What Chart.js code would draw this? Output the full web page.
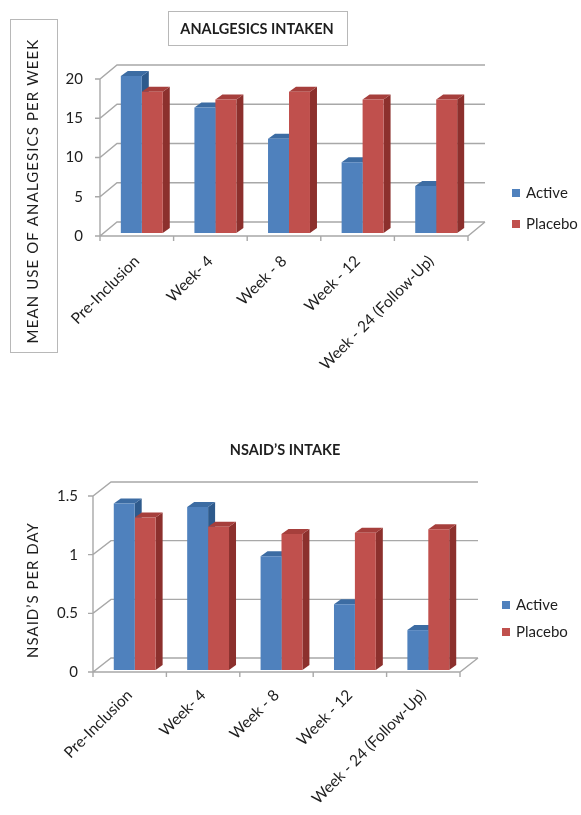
<!DOCTYPE html>
<html>
<head>
<meta charset="utf-8">
<script src="https://cdn.jsdelivr.net/npm/chart.js@4.4.1/dist/chart.umd.min.js"></script>
<style>
  html, body { margin: 0; padding: 0; background: #fff; }
  body { width: 581px; height: 815px; position: relative; overflow: hidden; }
  canvas { position: absolute; left: 0; }
  #analgesics { top: 0; }
  #nsaids { top: 400px; }
</style>
</head>
<body>
<canvas id="analgesics" width="581" height="400"></canvas>
<canvas id="nsaids" width="581" height="415"></canvas>
<script>
// ---- data ----
const categories = ['Pre-Inclusion', 'Week- 4', 'Week - 8', 'Week - 12', 'Week - 24 (Follow-Up)'];
const seriesNames = ['Active', 'Placebo'];

const analgesicsActive  = [20, 16, 12, 9, 6];
const analgesicsPlacebo = [18, 17, 18, 17, 17];
const analgesicsAxis    = { min: 0, max: 20, step: 5 };

const nsaidActive  = [1.42, 1.39, 0.97, 0.56, 0.34];
const nsaidPlacebo = [1.30, 1.22, 1.16, 1.17, 1.20];
const nsaidAxis    = { min: 0, max: 1.5, step: 0.5 };

// ---- styling ----
const FONT = 'Lato, "Liberation Sans", sans-serif';
const TEXT = '#1e1e1e';
const BLUE = { front: '#4F81BD', side: '#2E5A8C', top: '#3C6CA3' };
const RED  = { front: '#C0504D', side: '#8C302D', top: '#A63F3C' };

// Draws the 3-D box (walls, floor, axis ticks) and the bar depth faces,
// then shifts the flat bar fronts into the box.
const depthPlugin = {
  id: 'depth3d',
  beforeDatasetsDraw(chart, args, o) {
    const { ctx, chartArea: a, scales: { x, y } } = chart;
    const [wx, wy] = o.wall;
    ctx.save();
    ctx.strokeStyle = o.lineColor;
    ctx.lineWidth = o.lineWidth;
    ctx.beginPath();
    y.ticks.forEach(t => {
      const py = y.getPixelForValue(t.value);
      ctx.moveTo(a.left - 5, py);
      ctx.lineTo(a.left, py);
      ctx.lineTo(a.left + wx, py + wy);
      ctx.lineTo(a.right + wx, py + wy);
    });
    ctx.moveTo(a.left, a.top);
    ctx.lineTo(a.left, a.bottom);
    ctx.lineTo(a.right, a.bottom);
    ctx.lineTo(a.right + wx, a.bottom + wy);
    for (let i = 0; i <= x.ticks.length; i++) {
      const px = x.getPixelForValue(i - 0.5);
      ctx.moveTo(px, a.bottom);
      ctx.lineTo(px, a.bottom + 5);
    }
    ctx.stroke();

    ctx.translate(o.barShift[0], o.barShift[1]);
    const [dx, dy] = o.barDepth;
    chart.data.datasets.forEach((ds, di) => {
      const meta = chart.getDatasetMeta(di);
      meta.data.forEach(bar => {
        const p = bar.getProps(['x', 'y', 'base', 'width'], true);
        const l = p.x - p.width / 2, r = p.x + p.width / 2;
        ctx.fillStyle = ds.sideColor;
        ctx.beginPath();
        ctx.moveTo(r, p.y); ctx.lineTo(r + dx, p.y + dy);
        ctx.lineTo(r + dx, p.base + dy); ctx.lineTo(r, p.base);
        ctx.closePath(); ctx.fill();
        ctx.fillStyle = ds.topColor;
        ctx.beginPath();
        ctx.moveTo(l, p.y); ctx.lineTo(l + dx, p.y + dy);
        ctx.lineTo(r + dx, p.y + dy); ctx.lineTo(r, p.y);
        ctx.closePath(); ctx.fill();
      });
    });
  },
  afterDatasetsDraw(chart) {
    chart.ctx.restore();
  },
  afterDraw(chart, args, o) {
    const ctx = chart.ctx;
    ctx.save();
    ctx.fillStyle = TEXT;
    ctx.textBaseline = 'middle';

    const t = o.title;
    ctx.font = `bold ${t.size}px ${FONT}`;
    ctx.textAlign = 'center';
    ctx.fillText(t.text, t.x, t.y);
    if (t.box) {
      ctx.strokeStyle = '#b8b8b8'; ctx.lineWidth = 1;
      ctx.strokeRect(t.box[0] + 0.5, t.box[1] + 0.5, t.box[2], t.box[3]);
    }

    const at = o.axisTitle;
    ctx.save();
    ctx.translate(at.x, at.y);
    ctx.rotate(-Math.PI / 2);
    ctx.font = `${at.size}px ${FONT}`;
    ctx.letterSpacing = at.spacing + 'px';
    ctx.fillText(at.text, 0, 0);
    ctx.restore();
    if (at.box) {
      ctx.strokeStyle = '#b8b8b8'; ctx.lineWidth = 1;
      ctx.strokeRect(at.box[0] + 0.5, at.box[1] + 0.5, at.box[2], at.box[3]);
    }

    const L = o.legend;
    ctx.font = `${L.size}px ${FONT}`;
    ctx.textAlign = 'left';
    chart.data.datasets.forEach((ds, i) => {
      const ly = L.y + i * L.gap;
      ctx.fillStyle = ds.backgroundColor;
      ctx.fillRect(L.x, ly - 4, 8, 8);
      ctx.fillStyle = TEXT;
      ctx.fillText(ds.label, L.x + 14, ly);
    });
    ctx.restore();
  }
};

function makeChart(id, active, placebo, axis, geo, deco) {
  return new Chart(document.getElementById(id), {
    type: 'bar',
    data: {
      labels: categories,
      datasets: [
        { label: seriesNames[0], data: active, backgroundColor: BLUE.front,
          sideColor: BLUE.side, topColor: BLUE.top, clip: false },
        { label: seriesNames[1], data: placebo, backgroundColor: RED.front,
          sideColor: RED.side, topColor: RED.top, clip: false }
      ]
    },
    options: {
      responsive: false,
      animation: false,
      events: [],
      layout: { padding: { left: 0, right: geo.padRight, top: geo.padTop, bottom: 0 } },
      datasets: { bar: { categoryPercentage: 0.57, barPercentage: 1 } },
      plugins: {
        legend: { display: false },
        tooltip: { enabled: false },
        title: { display: false },
        depth3d: deco
      },
      scales: {
        x: {
          grid: { display: false, drawTicks: false },
          border: { display: false },
          ticks: { autoSkip: false, minRotation: 45, maxRotation: 45, padding: geo.xPad,
                   color: TEXT, font: { family: FONT, size: 15.5 } },
          afterFit(s) { s.height = geo.xHeight; }
        },
        y: {
          min: axis.min, max: axis.max,
          grid: { display: false, drawTicks: false },
          border: { display: false },
          ticks: { stepSize: axis.step, padding: geo.yPad, color: TEXT,
                   font: { family: FONT, size: 15 },
                   callback: v => String(v) },
          afterFit(s) { s.width = geo.yWidth; }
        }
      }
    },
    plugins: [depthPlugin]
  });
}

makeChart('analgesics', analgesicsActive, analgesicsPlacebo, analgesicsAxis,
  { padRight: 113, padTop: 79, yWidth: 100, xHeight: 164, xPad: 16, yPad: 17 },
  {
    wall: [17, -14], barShift: [5, -3], barDepth: [7, -5],
    lineColor: '#a8a8a8', lineWidth: 1.4,
    title: { text: 'ANALGESICS INTAKEN', size: 14.5, x: 257, y: 29, box: [168, 11, 179, 34] },
    axisTitle: { text: 'MEAN USE OF ANALGESICS PER WEEK', size: 15, spacing: 1.1,
                 x: 33, y: 191, box: [10, 19, 47, 333] },
    legend: { x: 512, y: 193, gap: 31, size: 15 }
  });

makeChart('nsaids', nsaidActive, nsaidPlacebo, nsaidAxis,
  { padRight: 121, padTop: 96, yWidth: 93, xHeight: 143, xPad: 14, yPad: 15 },
  {
    wall: [18, -14], barShift: [5, -2], barDepth: [7, -5],
    lineColor: '#a8a8a8', lineWidth: 1.4,
    title: { text: 'NSAID’S INTAKE', size: 14.5, x: 285, y: 50 },
    axisTitle: { text: 'NSAID’S PER DAY', size: 15, spacing: 1, x: 33, y: 190 },
    legend: { x: 502, y: 205, gap: 27, size: 15 }
  });
</script>
</body>
</html>
